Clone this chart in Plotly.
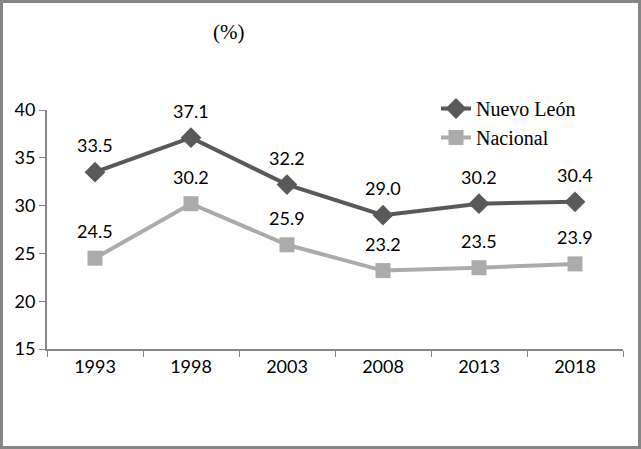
import plotly.graph_objects as go

years = ["1993", "1998", "2003", "2008", "2013", "2018"]
nuevo_leon = [33.5, 37.1, 32.2, 29.0, 30.2, 30.4]
nacional = [24.5, 30.2, 25.9, 23.2, 23.5, 23.9]
y_ticks = [15, 20, 25, 30, 35, 40]

W, H = 641, 449
L, R, T, B = 47, 623, 110, 349
pw, ph = R - L, B - T

def px(x):
    return (x - L) / pw

def py(y):
    return (B - y) / ph

label_font = dict(family="Lato, Open Sans, sans-serif", size=18, color="#000000")

fig = go.Figure()
fig.add_trace(go.Scatter(
    x=years, y=nuevo_leon, name="Nuevo León", mode="lines+markers",
    line=dict(color="#595959", width=4),
    marker=dict(symbol="diamond", size=16, color="#595959"),
))
fig.add_trace(go.Scatter(
    x=years, y=nacional, name="Nacional", mode="lines+markers",
    line=dict(color="#ABABAB", width=4),
    marker=dict(symbol="square", size=15, color="#ABABAB"),
))

for series in (nuevo_leon, nacional):
    for i, yv in enumerate(series):
        fig.add_annotation(x=i, y=yv, text=f"{yv:.1f}", showarrow=False,
                           yshift=27, font=label_font, xref="x", yref="y")

fig.add_annotation(x=px(228), y=py(32), xref="paper", yref="paper",
                   xanchor="center", yanchor="middle",
                   text="(%)", showarrow=False,
                   font=dict(family="Liberation Serif, serif", size=21, color="#000"))

frame = dict(color="#868686", width=3)
x0, x1, y0, y1 = px(1.5), px(639.5), py(447.5), py(1.5)
fig.add_shape(type="rect", xref="paper", yref="paper", x0=x0, y0=y0, x1=x1, y1=y1,
              line=frame, layer="below")

fig.update_layout(
    width=W, height=H,
    margin=dict(l=L, r=W - R, t=T, b=H - B),
    plot_bgcolor="white", paper_bgcolor="white",
    showlegend=True,
    legend=dict(x=px(436), y=py(89), xanchor="left", yanchor="top",
                font=dict(family="Liberation Serif, serif", size=20, color="#000"),
                bgcolor="rgba(0,0,0,0)", tracegroupgap=0, itemwidth=30),
    xaxis=dict(type="category", showgrid=False, showline=True, linecolor="#868686",
               linewidth=2, ticks="outside", ticklen=6, tickcolor="#868686",
               tickson="boundaries", tickfont=label_font, range=[-0.5, 5.5]),
    yaxis=dict(range=[15, 40], tickvals=y_ticks, showgrid=False, showline=True,
               linecolor="#868686", linewidth=2, ticks="outside", ticklen=6,
               tickcolor="#868686", tickfont=label_font, zeroline=False),
)

fig.write_html("out.html", config={"displayModeBar": False},
               post_script="document.body.style.margin='0';document.body.style.overflow='hidden';")
